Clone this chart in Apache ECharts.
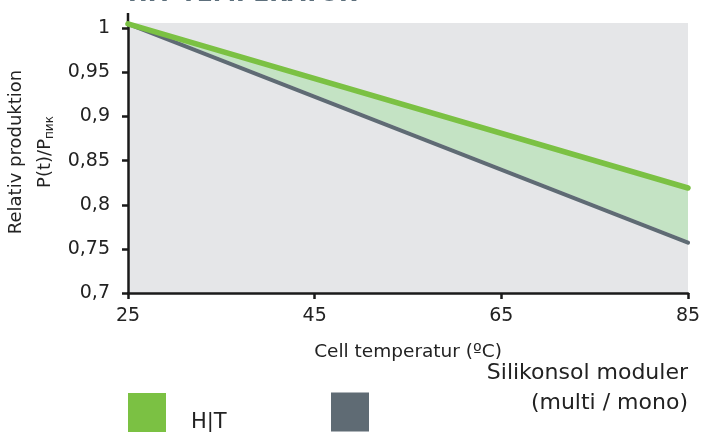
<!DOCTYPE html>
<html>
<head>
<meta charset="utf-8">
<script src="https://cdn.jsdelivr.net/npm/echarts@6/dist/echarts.min.js"></script>
<style>
  html, body { margin: 0; padding: 0; background: #fff; }
  #chart { width: 703px; height: 432px; }
</style>
</head>
<body>
<div id="chart"></div>
<script>
// cell temperature (°C)
const temps = [25, 85];
// relative production P(t)/Ppeak
const hitValues = [1.005, 0.819];
const siValues = [1.005, 0.757];
const yTicks = [0.7, 0.75, 0.8, 0.85, 0.9, 0.95, 1];
const xTicks = [25, 45, 65, 85];

const FONT = "'DejaVu Sans', sans-serif";
const GREEN = '#7bc143';
const GRAY = '#5f6b74';
const INK = '#222';

const chart = echarts.init(document.getElementById('chart'));

// light green band between the two curves, slightly inset from both lines
function renderBand(params, api) {
    const upper = temps.map((t, i) => api.coord([t, hitValues[i] - 0.0015]));
    const lower = temps.map((t, i) => api.coord([t, siValues[i] + 0.0025])).reverse();
    return {
        type: 'polygon',
        shape: { points: upper.concat(lower) },
        style: { fill: '#c4e3c4' }
    };
}

const option = {
    animation: false,
    textStyle: { fontFamily: FONT },
    title: {
        text: 'HIT TEMPERATUR',
        left: 128,
        top: -17,
        padding: 0,
        textStyle: { color: '#5d6f7c', fontSize: 23.5, fontWeight: 'bold', fontFamily: FONT }
    },
    grid: {
        left: 128, right: 15, top: 23, bottom: 139,
        show: true,
        backgroundColor: '#e5e6e8',
        borderWidth: 0,
        outerBoundsMode: 'none'
    },
    legend: [{
        data: ['H|T'],
        left: 128, top: 392,
        padding: 0,
        icon: 'rect',
        itemWidth: 38, itemHeight: 39,
        selectedMode: false,
        formatter: '\n{name}',
        textStyle: {
            fontSize: 21, lineHeight: 20, color: INK, fontFamily: FONT,
            padding: [0, 0, 0, 20]
        }
    }, {
        data: ['Silikonsol moduler (multi / mono)'],
        left: 331, top: 362,
        padding: 0,
        icon: 'rect',
        itemWidth: 38, itemHeight: 39,
        selectedMode: false,
        formatter: () => '{a|Silikonsol moduler}\n{a|(multi / mono)}',
        textStyle: {
            color: INK, fontFamily: FONT,
            padding: [0, 0, 48, 0],
            rich: {
                a: { fontSize: 22, lineHeight: 30, width: 314, align: 'right', color: INK, fontFamily: FONT }
            }
        }
    }],
    xAxis: {
        type: 'value',
        min: 25, max: 85, interval: 20,
        name: 'Cell temperatur (ºC)',
        nameLocation: 'middle',
        nameGap: 50,
        nameMoveOverlap: false,
        nameTextStyle: { fontSize: 18.5, color: INK, fontFamily: FONT },
        axisLine: { show: true, lineStyle: { color: '#1a1a1a', width: 2.5 } },
        axisTick: { show: true, length: 6, lineStyle: { color: '#1a1a1a', width: 2.5 } },
        axisLabel: { fontSize: 19, color: INK, margin: 14, fontFamily: FONT, customValues: xTicks },
        splitLine: { show: false }
    },
    yAxis: {
        type: 'value',
        min: 0.7, max: 1.006,
        name: 'Relativ produktion\n{p|P(t)/P}{s|пик}',
        nameLocation: 'middle',
        nameRotate: 90,
        nameGap: 68,
        nameMoveOverlap: false,
        nameTextStyle: {
            fontSize: 18, color: INK, lineHeight: 29, fontFamily: FONT,
            padding: [0, 0, 0, 12],
            rich: {
                p: { fontSize: 18, color: INK, fontFamily: FONT },
                s: { fontSize: 12, color: INK, fontFamily: FONT, padding: [8, 0, 0, 0] }
            }
        },
        axisLine: { show: true, lineStyle: { color: '#1a1a1a', width: 2.5 } },
        axisTick: { show: true, length: 6, customValues: yTicks, lineStyle: { color: '#1a1a1a', width: 2.5 } },
        axisLabel: {
            fontSize: 19, color: INK, margin: 18, fontFamily: FONT,
            customValues: yTicks,
            formatter: v => String(v).replace('.', ',')
        },
        splitLine: { show: false }
    },
    graphic: [{
        type: 'line',
        shape: { x1: 128, y1: 13, x2: 128, y2: 24 },
        style: { stroke: '#1a1a1a', lineWidth: 2.5 }
    }],
    series: [{
        name: 'band',
        type: 'custom',
        renderItem: renderBand,
        data: [[temps[0], hitValues[0]]],
        silent: true,
        z: 1
    }, {
        name: 'Silikonsol moduler (multi / mono)',
        type: 'line',
        data: temps.map((t, i) => [t, siValues[i]]),
        symbol: 'none',
        color: GRAY,
        lineStyle: { color: GRAY, width: 4, cap: 'round' },
        z: 3
    }, {
        name: 'H|T',
        type: 'line',
        data: temps.map((t, i) => [t, hitValues[i]]),
        symbol: 'none',
        color: GREEN,
        lineStyle: { color: GREEN, width: 5.5, cap: 'round' },
        z: 4
    }]
};

chart.setOption(option);
</script>
</body>
</html>
